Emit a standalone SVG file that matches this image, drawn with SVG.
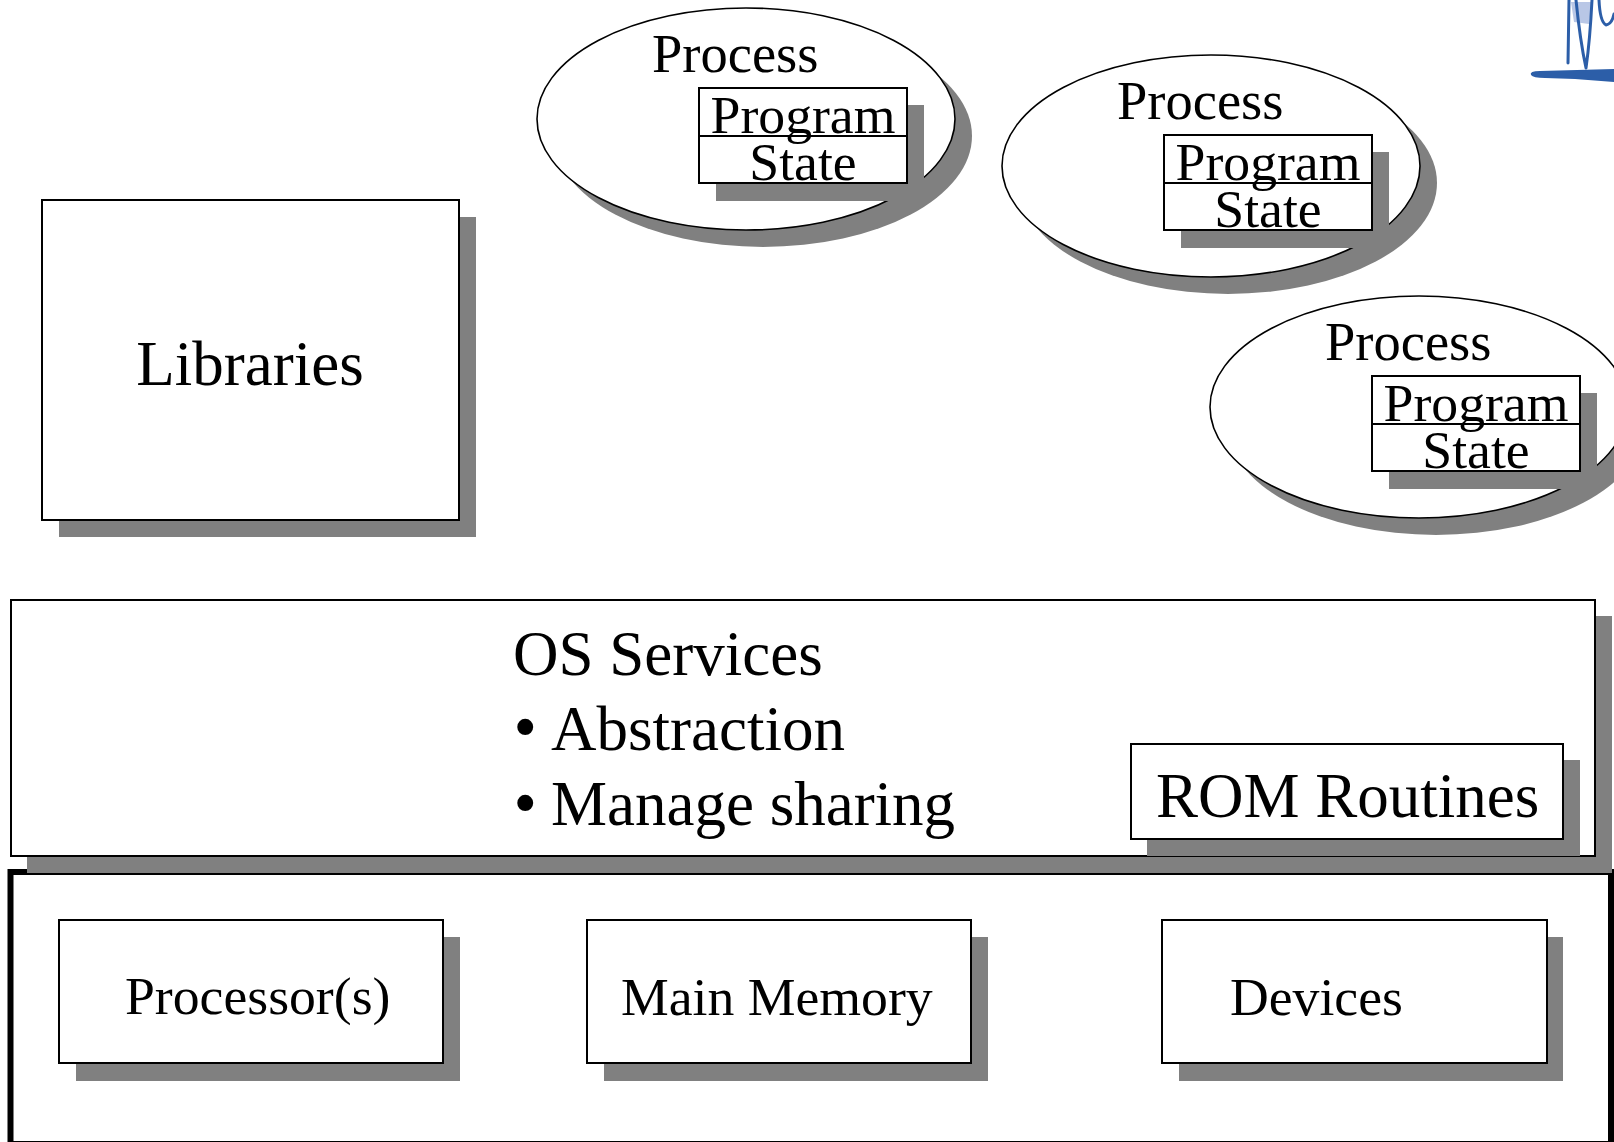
<svg xmlns="http://www.w3.org/2000/svg" width="1614" height="1142" viewBox="0 0 1614 1142">
  <style>
    .shadow { fill: #808080; stroke: none; }
    .box { fill: #ffffff; stroke: #000000; stroke-width: 2; }
    .oval { fill: #ffffff; stroke: #000000; stroke-width: 1.6; }
    .frame { fill: #ffffff; stroke: #000000; stroke-width: 6; }
    .t { font-family: "Liberation Serif", "Times New Roman", serif; fill: #000000; }
    .big { font-size: 63px; }
    .mid { font-size: 53.7px; }
    .head { font-size: 54.5px; }
    .dot { font-size: 67px; }
    .logo { fill: none; stroke: #2c5ea8; stroke-linecap: round; stroke-linejoin: round; }
  </style>
  <defs>
    <!-- a process: ellipse with a Program/State box inside -->
    <g id="process-shape">
      <ellipse class="shadow" cx="763" cy="136" rx="209" ry="111"/>
      <ellipse class="oval" cx="746" cy="119" rx="209" ry="111"/>
      <text class="t head" x="652" y="72">Process</text>
      <rect class="shadow" x="716" y="105" width="208" height="96"/>
      <rect class="box" x="699" y="88" width="208" height="95"/>
      <line x1="699" y1="136" x2="907" y2="136" stroke="#000" stroke-width="2"/>
      <text class="t mid" x="803" y="133" text-anchor="middle">Program</text>
      <text class="t mid" x="803" y="180" text-anchor="middle">State</text>
    </g>
  </defs>

  <rect width="1614" height="1142" fill="#ffffff"/>

  <!-- corner logo sketch -->
  <g id="logo">
    <path d="M1571,2 L1574,22 L1589,24 L1592,2 Z" fill="#a8b9e0" opacity="0.8"/>
    <path class="logo" stroke-width="3" d="M1569,0 L1568,63"/>
    <path class="logo" stroke-width="3" d="M1576,0 Q1580,40 1586,68 Q1590,40 1592,0"/>
    <path class="logo" stroke-width="3" d="M1599,0 Q1600,22 1606,25 Q1612,24 1614,14"/>
    <path d="M1531,75 Q1529,71 1540,71 L1614,69 L1614,82 L1575,79 L1545,78 Q1533,78 1531,75 Z" fill="#2c5ea8"/>
  </g>

  <g id="connectors"></g>

  <!-- libraries -->
  <g id="libraries">
    <rect class="shadow" x="59" y="217" width="417" height="320"/>
    <rect class="box" x="42" y="200" width="417" height="320"/>
    <text class="t big" x="250" y="385" text-anchor="middle">Libraries</text>
  </g>

  <!-- processes -->
  <g id="process-1"><use href="#process-shape"/></g>
  <g id="process-2" transform="translate(465,47)"><use href="#process-shape"/></g>
  <g id="process-3" transform="translate(673,288)"><use href="#process-shape"/></g>

  <!-- hardware layer -->
  <g id="hardware">
    <rect class="frame" x="10.5" y="872" width="1600.5" height="272"/>
  </g>

  <!-- OS services layer -->
  <g id="os-services">
    <rect class="shadow" x="27" y="616" width="1585" height="257"/>
    <rect class="box" x="11" y="600" width="1584" height="256"/>
    <text class="t big" x="513" y="675">OS Services</text>
    <text class="t big" y="750"><tspan class="dot" x="513.5" y="749">•</tspan><tspan x="551" y="750">Abstraction</tspan></text>
    <text class="t big" y="825"><tspan class="dot" x="513.5" y="825">•</tspan><tspan x="551" y="825">Manage sharing</tspan></text>
  </g>

  <g id="rom-routines">
    <rect class="shadow" x="1147" y="760" width="433" height="96"/>
    <rect class="box" x="1131" y="744" width="432" height="95"/>
    <text class="t big" x="1156" y="817">ROM Routines</text>
  </g>

  <g id="processors">
    <rect class="shadow" x="76" y="937" width="384" height="144"/>
    <rect class="box" x="59" y="920" width="384" height="143"/>
    <text class="t mid" x="125" y="1014">Processor(s)</text>
  </g>

  <g id="main-memory">
    <rect class="shadow" x="604" y="937" width="384" height="144"/>
    <rect class="box" x="587" y="920" width="384" height="143"/>
    <text class="t mid" x="621" y="1015">Main Memory</text>
  </g>

  <g id="devices">
    <rect class="shadow" x="1179" y="937" width="384" height="144"/>
    <rect class="box" x="1162" y="920" width="385" height="143"/>
    <text class="t mid" x="1230" y="1015">Devices</text>
  </g>
</svg>
